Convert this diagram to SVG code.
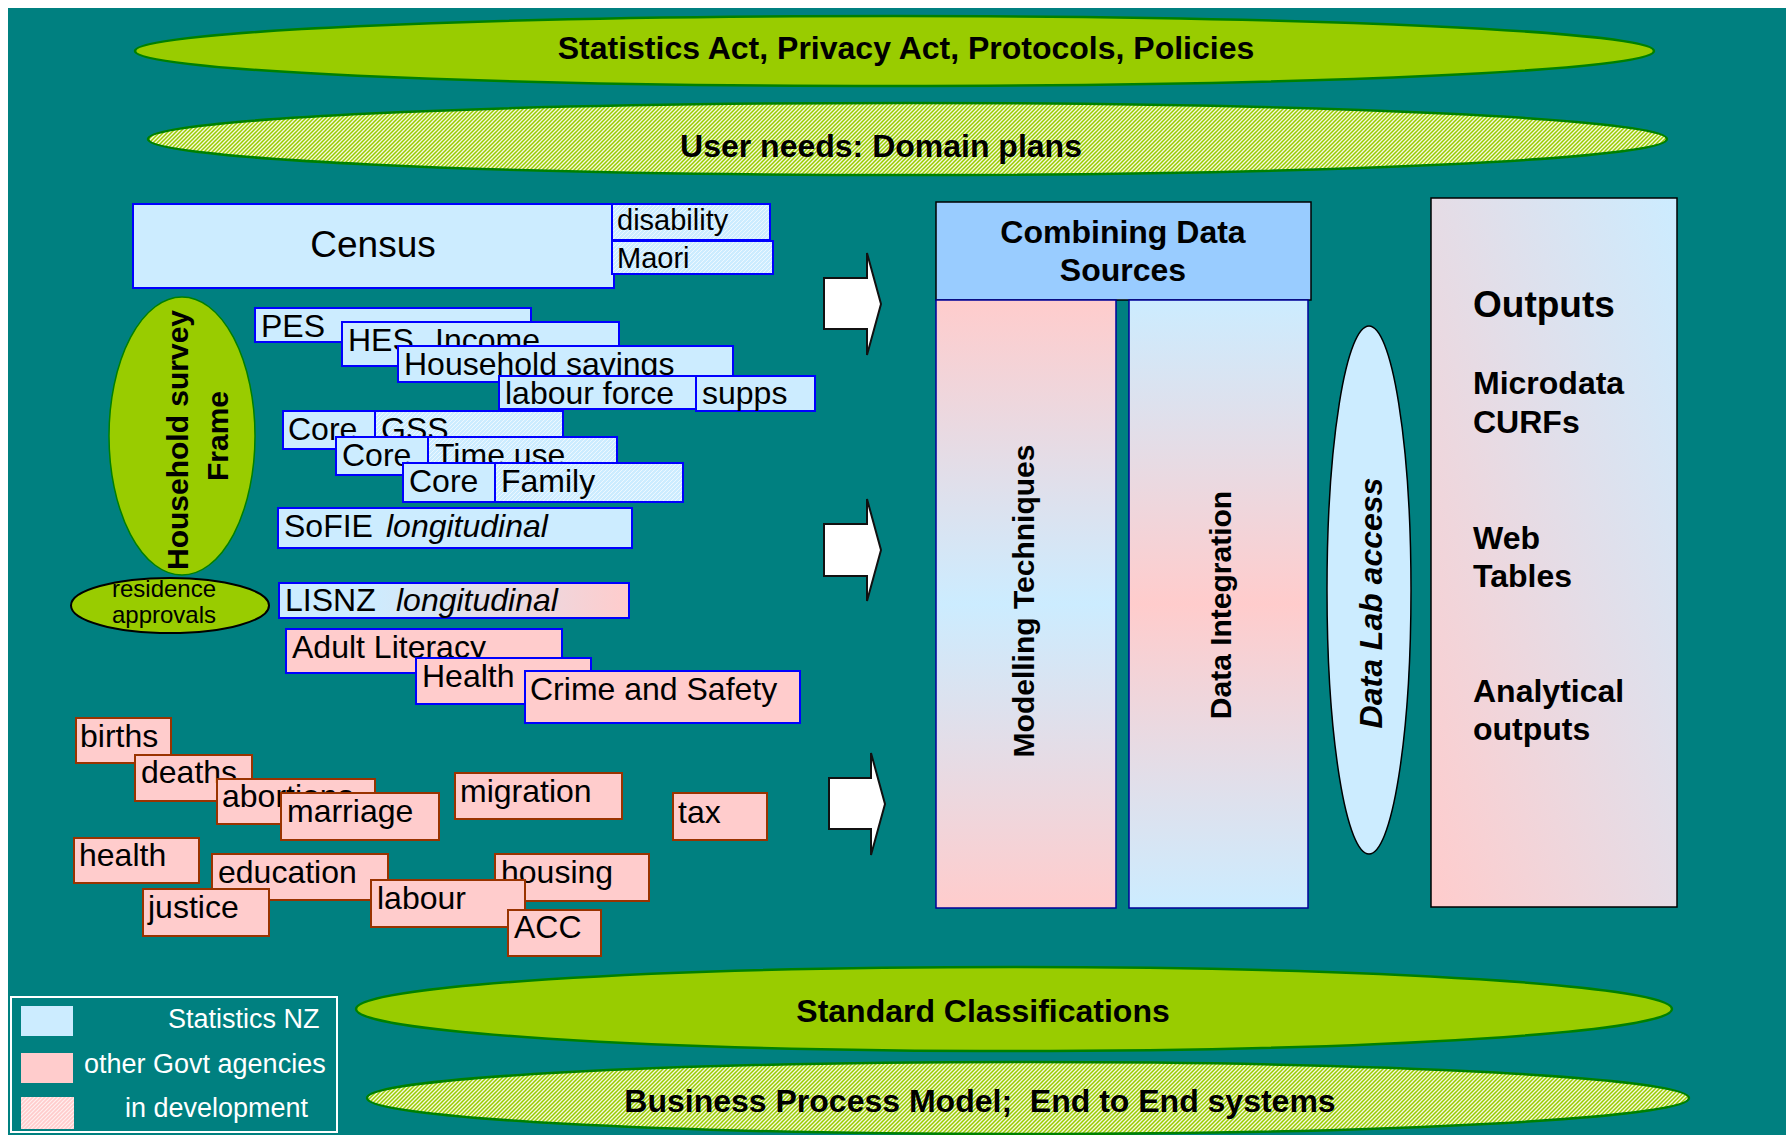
<svg xmlns="http://www.w3.org/2000/svg" width="1786" height="1135" viewBox="0 0 1786 1135">
<defs>
<style>
text{font-family:"Liberation Sans",Arial,sans-serif;fill:#000}
.b{font-weight:bold;font-size:32px}
.r{font-size:32px}
.it{font-style:italic}
.lg{font-size:27px;fill:#fff}
.blue{fill:#CCECFF;stroke:#0000FF;stroke-width:2}
.blueh{fill:url(#hatchB);stroke:#0000FF;stroke-width:2}
.pinkb{fill:#FFCCCC;stroke:#0000FF;stroke-width:2}
.pink{fill:#FFCCCC;stroke:#993300;stroke-width:2}
.band{stroke:#008000;stroke-width:2.5}
.arrow{fill:#fff;stroke:#111;stroke-width:2;stroke-linejoin:miter}
</style>
<pattern id="hatchG" width="4" height="4" patternUnits="userSpaceOnUse">
<rect width="4" height="4" fill="#F4F9E0"/>
<path d="M-1,1 l2,-2 M0,4 l4,-4 M3,5 l2,-2" stroke="#99CC00" stroke-width="1.5"/>
</pattern>
<pattern id="hatchB" width="4" height="4" patternUnits="userSpaceOnUse">
<rect width="4" height="4" fill="#CCECFF"/>
<path d="M-1,1 l2,-2 M0,4 l4,-4 M3,5 l2,-2" stroke="#EEF8FF" stroke-width="1"/>
</pattern>
<pattern id="hatchP" width="4" height="4" patternUnits="userSpaceOnUse">
<rect width="4" height="4" fill="#FFCCCC"/>
<path d="M-1,1 l2,-2 M0,4 l4,-4 M3,5 l2,-2" stroke="#FFF0F0" stroke-width="1.2"/>
</pattern>
<linearGradient id="gMod" x1="0" y1="0" x2="0" y2="1">
<stop offset="0" stop-color="#FFCCCC"/><stop offset="0.5" stop-color="#CCECFF"/><stop offset="1" stop-color="#FFCCCC"/>
</linearGradient>
<linearGradient id="gInt" x1="0" y1="0" x2="0" y2="1">
<stop offset="0" stop-color="#CCECFF"/><stop offset="0.5" stop-color="#FFCCCC"/><stop offset="1" stop-color="#CCECFF"/>
</linearGradient>
<linearGradient id="gOut" x1="0" y1="1" x2="1" y2="0">
<stop offset="0" stop-color="#FFCCCC"/><stop offset="1" stop-color="#CCECFF"/>
</linearGradient>
<linearGradient id="gLis" x1="0" y1="0" x2="1" y2="0">
<stop offset="0" stop-color="#CCECFF"/><stop offset="0.25" stop-color="#CCECFF"/><stop offset="1" stop-color="#FFCCCC"/>
</linearGradient>
</defs>

<rect x="0" y="0" width="1786" height="1135" fill="#fff"/>
<rect x="8" y="8" width="1778" height="1127" fill="#008080"/>

<g id="statistics-act">
<ellipse class="band" cx="894.5" cy="51" rx="759.5" ry="35" fill="#99CC00"/>
<text class="b" x="906" y="59" text-anchor="middle">Statistics Act, Privacy Act, Protocols, Policies</text>
</g>
<g id="user-needs">
<ellipse class="band" cx="907.5" cy="139" rx="759.5" ry="36" fill="url(#hatchG)"/>
<text class="b" x="881" y="157" text-anchor="middle">User needs: Domain plans</text>
</g>

<g id="census">
<rect class="blue" x="133" y="204" width="481" height="84"/>
<text x="373" y="257" text-anchor="middle" style="font-size:37px">Census</text>
</g>
<g id="disability">
<rect class="blueh" x="612" y="204" width="158" height="36"/>
<text class="r" x="617" y="230" style="font-size:29px">disability</text>
</g>
<g id="maori">
<rect class="blueh" x="612" y="241" width="161" height="33"/>
<text class="r" x="617" y="268" style="font-size:29px">Maori</text>
</g>

<g id="household-frame">
<ellipse cx="182" cy="436" rx="73" ry="139" fill="#99CC00" stroke="#008000" stroke-width="1.5"/>
<text class="b" transform="translate(188,440) rotate(-90)" text-anchor="middle" style="font-size:30px">Household survey</text>
<text class="b" transform="translate(228,436) rotate(-90)" text-anchor="middle" style="font-size:30px">Frame</text>
</g>
<g id="residence">
<ellipse cx="170" cy="605.5" rx="99" ry="27.5" fill="#99CC00" stroke="#000" stroke-width="2"/>
<text x="164" y="597" text-anchor="middle" style="font-size:24px">residence</text>
<text x="164" y="623" text-anchor="middle" style="font-size:24px">approvals</text>
</g>

<g id="pes">
<rect class="blue" x="255" y="308" width="276" height="34"/>
<text class="r" x="261" y="337">PES</text>
</g>
<g id="hes">
<rect class="blue" x="342" y="322" width="277" height="44"/>
<text class="r" x="348" y="351">HES<tspan x="435">Income</tspan></text>
</g>
<g id="household-savings">
<rect class="blue" x="398" y="346" width="335" height="36"/>
<text class="r" x="404" y="375">Household savings</text>
</g>
<g id="labour-force">
<rect class="blue" x="499" y="376" width="213" height="33"/>
<text class="r" x="505" y="404">labour force</text>
</g>
<g id="supps">
<rect class="blue" x="696" y="376" width="119" height="35"/>
<text class="r" x="702" y="404">supps</text>
</g>

<g id="core-gss">
<rect class="blue" x="283" y="411" width="92" height="38"/>
<rect class="blueh" x="375" y="411" width="188" height="38"/>
<text class="r" x="288" y="440">Core</text>
<text class="r" x="381" y="440">GSS</text>
</g>
<g id="core-time-use">
<rect class="blue" x="336" y="437" width="92" height="38"/>
<rect class="blueh" x="428" y="437" width="189" height="38"/>
<text class="r" x="342" y="466">Core</text>
<text class="r" x="435" y="466">Time use</text>
</g>
<g id="core-family">
<rect class="blue" x="403" y="463" width="92" height="39"/>
<rect class="blueh" x="495" y="463" width="188" height="39"/>
<text class="r" x="409" y="492">Core</text>
<text class="r" x="501" y="492">Family</text>
</g>
<g id="sofie">
<rect class="blue" x="278" y="508" width="354" height="40"/>
<text class="r" x="284" y="537">SoFIE <tspan class="it" x="386">longitudinal</tspan></text>
</g>

<g id="lisnz">
<rect x="279" y="583" width="350" height="35" fill="url(#gLis)" stroke="#0000FF" stroke-width="2"/>
<text class="r" x="285" y="611">LISNZ <tspan class="it" x="396">longitudinal</tspan></text>
</g>
<g id="adult-literacy">
<rect class="pinkb" x="286" y="629" width="276" height="44"/>
<text class="r" x="292" y="658">Adult Literacy</text>
</g>
<g id="health-survey">
<rect class="pinkb" x="416" y="658" width="175" height="46"/>
<text class="r" x="422" y="687">Health</text>
</g>
<g id="crime-safety">
<rect class="pinkb" x="525" y="671" width="275" height="52"/>
<text class="r" x="530" y="700">Crime and Safety</text>
</g>

<g id="births"><rect class="pink" x="76" y="718" width="95" height="45"/><text class="r" x="80" y="747">births</text></g>
<g id="deaths"><rect class="pink" x="135" y="755" width="117" height="46"/><text class="r" x="141" y="783">deaths</text></g>
<g id="abortions"><rect class="pink" x="217" y="779" width="158" height="45"/><text class="r" x="222" y="807">abortions</text></g>
<g id="marriage"><rect class="pink" x="281" y="793" width="158" height="47"/><text class="r" x="287" y="822">marriage</text></g>
<g id="migration"><rect class="pink" x="455" y="773" width="167" height="46"/><text class="r" x="460" y="802">migration</text></g>
<g id="tax"><rect class="pink" x="673" y="793" width="94" height="47"/><text class="r" x="678" y="823">tax</text></g>
<g id="health"><rect class="pink" x="74" y="838" width="125" height="45"/><text class="r" x="79" y="866">health</text></g>
<g id="education"><rect class="pink" x="212" y="854" width="176" height="46"/><text class="r" x="218" y="883">education</text></g>
<g id="justice"><rect class="pink" x="143" y="889" width="126" height="47"/><text class="r" x="148" y="918">justice</text></g>
<g id="housing"><rect class="pink" x="495" y="854" width="154" height="47"/><text class="r" x="501" y="883">housing</text></g>
<g id="labour"><rect class="pink" x="371" y="880" width="154" height="47"/><text class="r" x="377" y="909">labour</text></g>
<g id="acc"><rect class="pink" x="508" y="910" width="93" height="46"/><text class="r" x="514" y="938">ACC</text></g>

<g id="connectors">
<polygon class="arrow" points="824,278 867,278 867,253 881,304 867,355 867,329 824,329"/>
<polygon class="arrow" points="824,524 867,524 867,499 881,550 867,601 867,576 824,576"/>
<polygon class="arrow" points="829,778 871,778 871,753 885,804 871,855 871,829 829,829"/>
</g>

<g id="combining">
<rect x="936" y="202" width="375" height="98" fill="#99CCFF" stroke="#000" stroke-width="1.5"/>
<text class="b" x="1123" y="243" text-anchor="middle">Combining Data</text>
<text class="b" x="1123" y="281" text-anchor="middle">Sources</text>
</g>
<g id="modelling">
<rect x="936" y="300" width="180" height="608" fill="url(#gMod)" stroke="#000099" stroke-width="1.5"/>
<text class="b" transform="translate(1034,601) rotate(-90)" text-anchor="middle" style="font-size:30px">Modelling Techniques</text>
</g>
<g id="integration">
<rect x="1129" y="300" width="179" height="608" fill="url(#gInt)" stroke="#000099" stroke-width="1.5"/>
<text class="b" transform="translate(1231,605) rotate(-90)" text-anchor="middle" style="font-size:30px">Data Integration</text>
</g>
<g id="datalab">
<ellipse cx="1369" cy="590" rx="42" ry="264" fill="#CCECFF" stroke="#000" stroke-width="1.5"/>
<text class="b it" transform="translate(1382,603) rotate(-90)" text-anchor="middle">Data Lab access</text>
</g>
<g id="outputs">
<rect x="1431" y="198" width="246" height="709" fill="url(#gOut)" stroke="#000" stroke-width="1.5"/>
<text class="b" x="1473" y="317" style="font-size:37px">Outputs</text>
<text class="b" x="1473" y="394">Microdata</text>
<text class="b" x="1473" y="433">CURFs</text>
<text class="b" x="1473" y="549">Web</text>
<text class="b" x="1473" y="587">Tables</text>
<text class="b" x="1473" y="702">Analytical</text>
<text class="b" x="1473" y="740">outputs</text>
</g>

<g id="standard-classifications">
<ellipse class="band" cx="1014" cy="1009" rx="658" ry="42" fill="#99CC00"/>
<text class="b" x="983" y="1022" text-anchor="middle">Standard Classifications</text>
</g>
<g id="business-process">
<ellipse class="band" cx="1028" cy="1098" rx="661" ry="36" fill="url(#hatchG)"/>
<text class="b" x="980" y="1112" text-anchor="middle" xml:space="preserve">Business Process Model;  End to End systems</text>
</g>

<g id="legend">
<rect x="11" y="997" width="326" height="135" fill="none" stroke="#fff" stroke-width="2"/>
<rect x="21" y="1006" width="52" height="30" fill="#CCECFF"/>
<rect x="21" y="1053" width="52" height="30" fill="#FFCCCC"/>
<rect x="21" y="1097" width="53" height="32" fill="url(#hatchP)"/>
<text class="lg" x="168" y="1028">Statistics NZ</text>
<text class="lg" x="84" y="1073">other Govt agencies</text>
<text class="lg" x="125" y="1117">in development</text>
</g>
</svg>
